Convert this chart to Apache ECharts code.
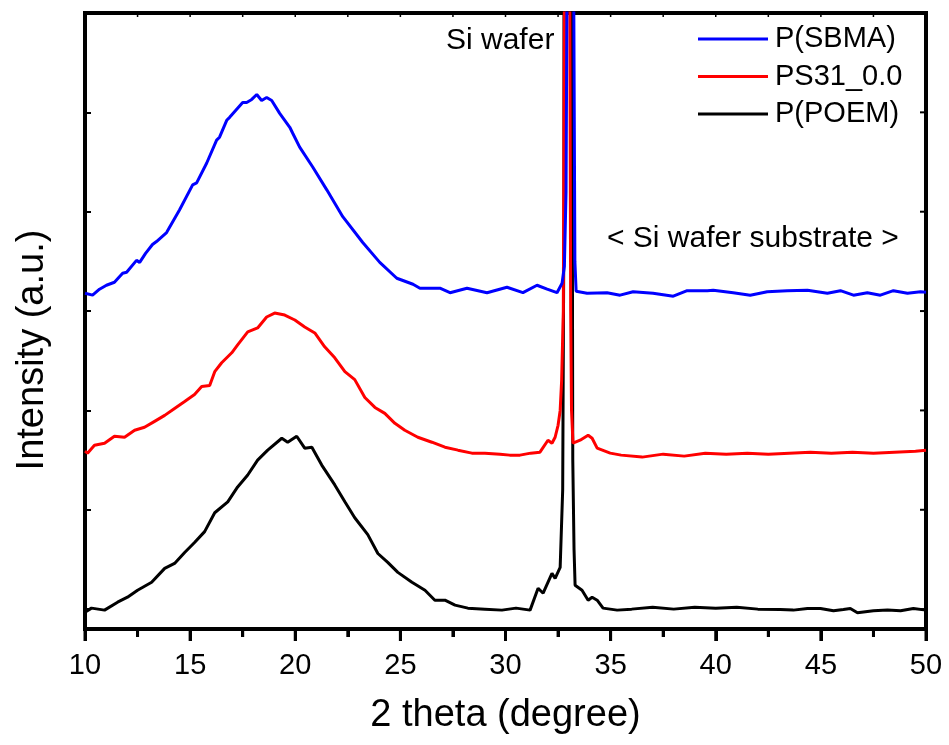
<!DOCTYPE html>
<html>
<head>
<meta charset="utf-8">
<script src="https://cdn.jsdelivr.net/npm/echarts@6/dist/echarts.min.js"></script>
<style>
html,body{margin:0;padding:0;background:#fff;}
#chart{width:949px;height:745px;}
</style>
</head>
<body>
<div id="chart"></div>
<script>
// ---- data (2 theta in degree, intensity in arbitrary units, stacked offsets as in the figure) ----
const seriesNames = ['P(SBMA)', 'PS31_0.0', 'P(POEM)'];

const sbmaTheta = [10.0,10.36,10.69,11.02,11.40,11.79,11.98,12.45,12.60,12.88,13.21,13.40,13.88,14.50,15.12,15.31,15.79,16.26,16.40,16.74,16.88,17.50,17.69,17.93,18.17,18.40,18.64,18.88,19.26,19.74,19.88,20.21,20.83,21.50,22.26,23.21,24.02,24.83,25.60,25.93,26.26,26.88,27.36,28.17,29.12,30.07,30.83,31.50,31.98,32.45,32.69,32.80,32.88,32.93,33.05,33.25,33.30,33.36,33.40,33.88,34.83,35.45,36.07,37.02,37.98,38.64,39.60,39.88,40.83,41.64,42.45,43.40,44.36,45.31,45.93,46.55,47.21,47.83,48.45,49.12,49.74,50.0];
const sbmaIntensity = [3.18,3.16,3.22,3.26,3.29,3.38,3.39,3.51,3.49,3.58,3.67,3.70,3.79,4.02,4.27,4.29,4.49,4.72,4.75,4.92,4.95,5.10,5.10,5.13,5.18,5.12,5.15,5.12,4.99,4.85,4.79,4.65,4.45,4.22,3.95,3.69,3.49,3.33,3.27,3.23,3.23,3.23,3.185,3.23,3.185,3.24,3.185,3.26,3.22,3.185,3.28,3.45,4.2,6.5,200,6.0,3.5,3.2,3.195,3.18,3.185,3.16,3.195,3.18,3.15,3.205,3.205,3.21,3.185,3.16,3.195,3.205,3.21,3.18,3.205,3.16,3.185,3.16,3.205,3.18,3.195,3.19];

const ps31Theta = [10.0,10.12,10.45,10.93,11.40,11.88,12.36,12.83,13.31,13.79,14.26,14.74,15.21,15.55,15.93,16.17,16.50,16.98,17.26,17.74,18.21,18.64,19.02,19.50,19.98,20.45,20.93,21.40,21.88,22.36,22.83,23.31,23.79,24.26,24.74,25.21,25.83,26.50,27.12,27.74,28.40,29.02,29.74,30.20,30.69,31.20,31.64,32.02,32.21,32.36,32.50,32.60,32.67,32.75,32.80,32.93,33.06,33.10,33.14,33.21,33.55,33.93,34.12,34.36,34.98,35.50,36.50,37.50,38.50,39.50,40.50,41.50,42.50,43.50,44.50,45.50,46.50,47.50,48.50,49.50,50.0];
const ps31Intensity = [1.59,1.57,1.65,1.67,1.74,1.73,1.80,1.83,1.89,1.95,2.02,2.09,2.16,2.24,2.25,2.39,2.48,2.58,2.66,2.79,2.83,2.94,2.98,2.96,2.91,2.84,2.78,2.64,2.53,2.39,2.31,2.13,2.03,1.97,1.87,1.80,1.73,1.68,1.63,1.60,1.57,1.57,1.56,1.55,1.55,1.57,1.58,1.70,1.67,1.73,1.85,2.0,2.3,3.0,6.0,200,6.0,3.0,2.0,1.67,1.70,1.75,1.72,1.62,1.57,1.55,1.53,1.56,1.54,1.57,1.56,1.57,1.56,1.57,1.58,1.57,1.58,1.57,1.58,1.59,1.60];

const poemTheta = [10.0,10.31,10.93,11.55,12.02,12.50,13.17,13.79,14.26,14.74,15.21,15.69,16.17,16.79,17.26,17.74,18.21,18.69,19.36,19.64,20.07,20.45,20.79,21.26,21.88,22.36,22.83,23.45,23.93,24.40,24.88,25.55,26.17,26.64,27.12,27.60,28.21,29.02,29.83,30.50,31.17,31.55,31.79,32.21,32.36,32.60,32.72,32.78,32.95,33.17,33.20,33.26,33.31,33.64,33.93,34.12,34.36,34.64,35.31,36.0,37.0,38.0,39.0,40.0,41.0,42.0,43.07,43.69,44.36,44.98,45.60,46.07,46.40,46.74,47.50,48.17,48.79,49.40,50.0];
const poemIntensity = [-0.03,0.01,-0.01,0.07,0.12,0.19,0.27,0.41,0.46,0.57,0.67,0.78,0.97,1.08,1.23,1.35,1.50,1.60,1.72,1.68,1.74,1.62,1.63,1.45,1.25,1.08,0.92,0.75,0.56,0.47,0.37,0.27,0.19,0.09,0.09,0.04,0.01,0.00,-0.01,0.01,-0.01,0.21,0.16,0.36,0.31,0.42,1.2,4.0,200,5.0,1.5,0.6,0.24,0.19,0.09,0.12,0.09,0.01,-0.01,0.00,0.02,0.00,0.02,0.01,0.02,0.00,-0.003,-0.01,0.007,0.007,-0.017,-0.003,0.007,-0.037,-0.017,-0.01,-0.017,0.007,-0.01];

const xMajorTicks = [10, 15, 20, 25, 30, 35, 40, 45, 50];
const xMinorTicks = [12.5, 17.5, 22.5, 27.5, 32.5, 37.5, 42.5, 47.5];
const yTickValues = [0, 1, 2, 3, 4, 5];

function pairs(xs, ys) { return xs.map((x, i) => [x, ys[i]]); }

const FONT = '"Liberation Sans", Arial, sans-serif';
const chart = echarts.init(document.getElementById('chart'));

const X_MIN = 10, X_MAX = 50, Y_MIN = -0.2, Y_MAX = 6;

const option = {
  animation: false,
  grid: {left: 85, right: 23, top: 13, bottom: 116, show: true, borderColor: '#000', borderWidth: 4, backgroundColor: 'transparent'},
  legend: {
    data: seriesNames,
    orient: 'vertical',
    left: 698,
    top: 24,
    padding: 0,
    itemWidth: 70,
    itemHeight: 3,
    itemGap: 7.5,
    icon: 'rect',
    textStyle: {fontSize: 29, color: '#000', fontFamily: FONT, lineHeight: 30, padding: [0,0,0,2]},
    selectedMode: false
  },
  xAxis: {
    type: 'value', min: X_MIN, max: X_MAX, interval: 5, position: 'bottom',
    axisLine: {show: true, onZero: false, lineStyle: {color: '#000', width: 4}},
    axisTick: {show: true, inside: false, length: 12, lineStyle: {color: '#000', width: 3}},
    minorTick: {show: true, splitNumber: 2, length: 8, lineStyle: {color: '#000', width: 3}},
    axisLabel: {show: true, fontSize: 29, color: '#000', margin: 22, fontFamily: FONT},
    splitLine: {show: false}
  },
  yAxis: {
    type: 'value', min: Y_MIN, max: Y_MAX, position: 'left',
    axisLine: {show: true, onZero: false, lineStyle: {color: '#000', width: 4}},
    axisTick: {show: true, inside: true, length: 6, lineStyle: {color: '#000', width: 2}, customValues: yTickValues},
    axisLabel: {show: false},
    splitLine: {show: false},
    name: 'Intensity (a.u.)', nameLocation: 'middle', nameGap: 33,
    nameTextStyle: {fontSize: 38, color: '#000', fontFamily: FONT, padding: [0, 58, 0, 0]}
  },
  series: [
    {name: 'P(POEM)', type: 'line', data: pairs(poemTheta, poemIntensity),
     showSymbol: false, symbol: 'none', clip: true, lineStyle: {color: '#000000', width: 3}, itemStyle: {color: '#000000'}},
    {name: 'PS31_0.0', type: 'line', data: pairs(ps31Theta, ps31Intensity),
     showSymbol: false, symbol: 'none', clip: true, lineStyle: {color: '#ff0000', width: 3}, itemStyle: {color: '#ff0000'}},
    {name: 'P(SBMA)', type: 'line', data: pairs(sbmaTheta, sbmaIntensity),
     showSymbol: false, symbol: 'none', clip: true, lineStyle: {color: '#0000ff', width: 3}, itemStyle: {color: '#0000ff'}}
  ]
};
chart.setOption(option);

// Frame ticks positioned through the chart's own scales (bottom outward, top/right inward)
const px = v => chart.convertToPixel({xAxisIndex: 0}, v);
const py = v => chart.convertToPixel({yAxisIndex: 0}, v);
const yBottom = py(Y_MIN), yTop = py(Y_MAX), xLeft = px(X_MIN), xRight = px(X_MAX);
const tickStyle = w => ({stroke: '#000', lineWidth: w});
const graphics = [
  {type: 'text', x: (xLeft + xRight) / 2, y: 716, style: {text: '2 theta (degree)', fill: '#000', font: '38px ' + FONT, verticalAlign: 'middle', align: 'center'}},
  {type: 'text', x: 446, y: 41, style: {text: 'Si wafer', fill: '#000', font: '30px ' + FONT, verticalAlign: 'middle', align: 'left'}},
  {type: 'text', x: 607, y: 239, style: {text: '< Si wafer substrate >', fill: '#000', font: '30px ' + FONT, verticalAlign: 'middle', align: 'left'}}
];
xMajorTicks.forEach(v => {
  const x = px(v);
  graphics.push({type: 'line', shape: {x1: x, y1: yBottom, x2: x, y2: yBottom + 12}, style: tickStyle(3), z: 10});
  graphics.push({type: 'line', shape: {x1: x, y1: yTop, x2: x, y2: yTop + 4}, style: tickStyle(1.5), z: 10});
});
xMinorTicks.forEach(v => {
  const x = px(v);
  graphics.push({type: 'line', shape: {x1: x, y1: yBottom, x2: x, y2: yBottom + 8}, style: tickStyle(3), z: 10});
  graphics.push({type: 'line', shape: {x1: x, y1: yTop, x2: x, y2: yTop + 4}, style: tickStyle(1.5), z: 10});
});
yTickValues.forEach(v => {
  const y = py(v);
  graphics.push({type: 'line', shape: {x1: xRight, y1: y, x2: xRight - 6, y2: y}, style: tickStyle(2), z: 10});
});
chart.setOption({graphic: graphics});
</script>
</body>
</html>
